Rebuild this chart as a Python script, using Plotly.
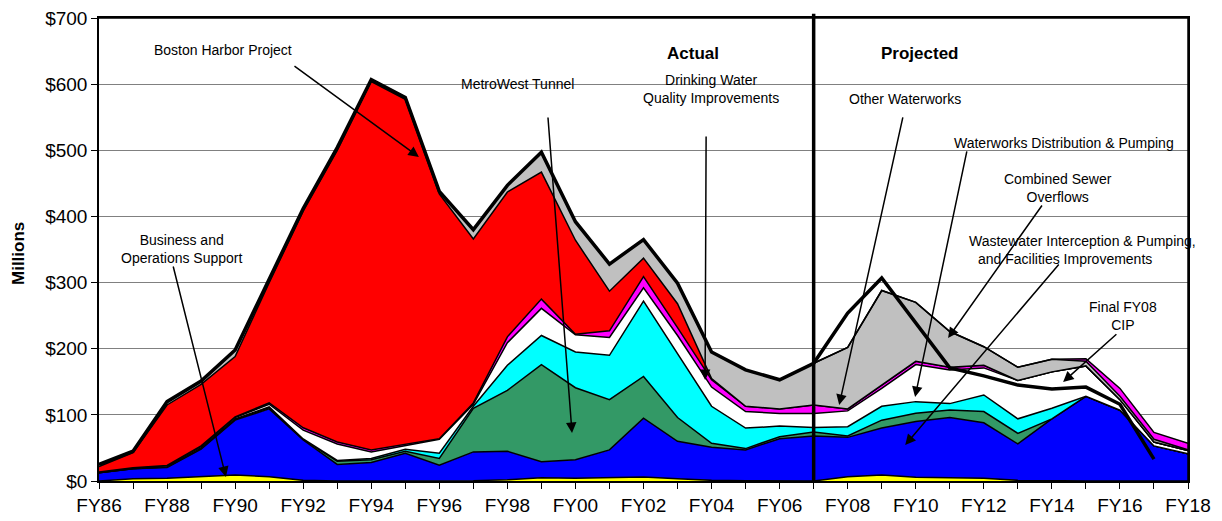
import plotly.graph_objects as go

# ---------------- data (millions of dollars), FY86 .. FY18 ----------------
years = list(range(1986, 2019))
tick_labels = ["FY86", "", "FY88", "", "FY90", "", "FY92", "", "FY94", "", "FY96", "",
               "FY98", "", "FY00", "", "FY02", "", "FY04", "", "FY06", "", "FY08", "",
               "FY10", "", "FY12", "", "FY14", "", "FY16", "", "FY18"]

business_ops = [0, 3.5, 4, 6.5, 9, 6.5, 1, 0, 0, 0, 0, 0.5, 2, 5, 4, 5.5, 6, 3.5, 1, 0.5,
                0.5, 0, 6.5, 9, 5.5, 4.5, 4, 1, 0, 0, 0, 0, 0]
wastewater = [12.5, 15, 16.5, 41.5, 83, 102.5, 61, 25, 28, 42, 24, 43.5, 43, 24, 28, 41.5,
              89, 56.5, 50, 46.5, 63.5, 68, 59.5, 71, 84.5, 91.5, 84, 55, 94, 128, 107, 53, 41]
metrowest = [0, 0, 0.5, 1, 1, 2, 1, 5, 4, 3, 10, 66, 92, 147, 109, 76, 63, 36, 6, 2,
             3, 6, 2, 12, 12.5, 11.5, 17, 16, 0, 0, 0, 0, 0]
drinking_water = [0, 0.5, 0.5, 1, 1, 1, 0.5, 1, 2, 3, 8, 3, 38, 44, 54, 67, 114, 96, 56, 31,
                  16, 7, 14, 21, 17.5, 9.5, 25, 22, 16, 0, 0, 0, 0]
distribution = [1, 1, 1.5, 2, 2, 4, 13.5, 25, 10, 5, 21, 3, 34, 41, 26, 27, 20, 28, 29, 25,
                19, 21, 24, 27, 56, 51, 41, 58, 55, 46, 16, 6, 5]
other_waterworks = [0, 0, 0.5, 1, 1, 2, 3.5, 3, 3, 2, 1, 2, 9, 14, 1, 10, 17, 12, 11, 8,
                    7, 13, 3, 5, 5, 4, 4, 0, 0, 4, 12, 10.5, 10]
boston_harbor = [8.5, 23, 91.5, 93, 91, 182, 327.5, 441, 557, 522, 370, 248, 219, 192, 142,
                 60, 28, 36, 2, 0, 0, 0, 0, 0, 0, 0, 0, 0, 0, 0, 0, 0, 0]
cso = [3, 2, 5, 5, 10, 5, 4, 4, 3, 3, 4, 14, 10, 30, 28, 41, 28, 31, 40, 55,
       44, 63, 93, 143, 89, 54, 28, 20, 19, 7, 5, 4, 1]
final_fy08_cip = [25, 45, 120, 151, 198, 305, 412, 504, 607, 580, 438, 380, 447, 497, 392,
                  328, 365, 299, 195, 168, 153, 178, 254, 307, 240, 171, 159, 145, 139, 142,
                  116, 33, None]

# In the late projected years the Other Waterworks band is drawn above CSO
upper_from = 2014
ow_lower = [v if y < upper_from else 0 for y, v in zip(years, other_waterworks)]
ow_upper = [v if y >= upper_from else 0 for y, v in zip(years, other_waterworks)]

layers = [
    ("Business and Operations Support", business_ops, "#FFFF00"),
    ("Wastewater Interception & Pumping, and Facilities Improvements", wastewater, "#0000FF"),
    ("MetroWest Tunnel", metrowest, "#339966"),
    ("Drinking Water Quality Improvements", drinking_water, "#00FFFF"),
    ("Waterworks Distribution & Pumping", distribution, "#FFFFFF"),
    ("Other Waterworks", ow_lower, "#FF00FF"),
    ("Boston Harbor Project", boston_harbor, "#FF0000"),
    ("Combined Sewer Overflows", cso, "#C0C0C0"),
    ("Other Waterworks ", ow_upper, "#FF00FF"),
]

fig = go.Figure()
for name, vals, color in layers:
    fig.add_trace(go.Scatter(
        x=years, y=vals, name=name, stackgroup="cip", mode="lines",
        line=dict(color="black", width=1.5), fillcolor=color, hoverinfo="skip"))

fig.add_trace(go.Scatter(
    x=years, y=final_fy08_cip, name="Final FY08 CIP", mode="lines",
    line=dict(color="black", width=3.5), connectgaps=False, hoverinfo="skip"))

FONT = "Arial, Liberation Sans, sans-serif"

# plot-area frame (top and right) and the Actual / Projected divider
fig.add_shape(type="line", xref="paper", yref="paper", x0=0, x1=1, y0=1, y1=1,
              line=dict(color="black", width=1.5))
fig.add_shape(type="line", xref="paper", yref="paper", x0=1, x1=1, y0=0, y1=1,
              line=dict(color="black", width=1.5))
fig.add_shape(type="line", xref="x", yref="paper", x0=2007, x1=2007, y0=0, y1=1.009,
              line=dict(color="black", width=3.5))

labels = [
    ("Boston Harbor Project", 1989.64, 651.6, 14, False),
    ("MetroWest Tunnel", 1998.30, 600.2, 14, False),
    ("Actual", 2003.455, 645.6, 17, True),
    ("Drinking Water<br>Quality Improvements", 2003.98, 593.4, 14, False),
    ("Projected", 2010.10, 645.6, 17, True),
    ("Other Waterworks", 2009.685, 577.6, 14, False),
    ("Waterworks Distribution & Pumping", 2014.36, 511.0, 14, False),
    ("Combined Sewer<br>Overflows", 2014.18, 443.0, 14, False),
    ("Wastewater Interception & Pumping,", 2014.89, 362.9, 14, False),
    ("and Facilities Improvements", 2014.39, 335.7, 14, False),
    ("Final FY08<br>CIP", 2016.09, 250.2, 14, False),
    ("Business and<br>Operations Support", 1988.44, 351.5, 14, False),
]
annotations = []
for text, x, y, size, bold in labels:
    annotations.append(dict(
        text=("<b>%s</b>" % text) if bold else text, x=x, y=y, xref="x", yref="y",
        showarrow=False, xanchor="center", yanchor="middle", align="center",
        font=dict(family=FONT, size=size, color="black")))

arrows = [
    (1995.40, 489.9, 1991.70, 629.0),
    (1999.90, 72.6, 1999.19, 551.9),
    (2003.81, 152.7, 2003.84, 523.1),
    (2007.75, 114.9, 2009.63, 551.9),
    (2009.98, 127.0, 2011.51, 500.5),
    (2010.95, 216.2, 2013.74, 418.8),
    (2009.69, 54.4, 2014.24, 329.6),
    (2014.33, 149.7, 2015.94, 223.8),
    (1989.73, 6.0, 1988.17, 326.6),
]
for x, y, ax, ay in arrows:
    annotations.append(dict(
        x=x, y=y, ax=ax, ay=ay, xref="x", yref="y", axref="x", ayref="y", text="",
        showarrow=True, arrowhead=2, arrowsize=1.4, arrowwidth=1.5, arrowcolor="black",
        standoff=0))

annotations.append(dict(
    text="<b>Millions</b>", xref="paper", yref="paper", x=-0.0744, y=0.4924,
    textangle=-90, showarrow=False, xanchor="center", yanchor="middle",
    font=dict(family=FONT, size=17, color="black")))

fig.update_layout(
    width=1222, height=521,
    margin=dict(l=99, r=34, t=18, b=40, autoexpand=False),
    paper_bgcolor="white", plot_bgcolor="white",
    showlegend=False,
    font=dict(family=FONT, color="black"),
    annotations=annotations,
    xaxis=dict(
        range=[1986, 2018], tickmode="array", tickvals=years, ticktext=tick_labels,
        ticks="outside", ticklen=6, tickwidth=1, tickcolor="black", automargin=False,
        ticklabeloverflow="allow",
        showgrid=False, zeroline=False, showline=True, linecolor="black", linewidth=1.5,
        mirror=True, tickfont=dict(family=FONT, size=19, color="black")),
    yaxis=dict(
        range=[0, 700], tickmode="linear", tick0=0, dtick=100, tickprefix="$",
        ticks="outside", ticklen=6, tickwidth=1, tickcolor="black", automargin=False,
        ticklabeloverflow="allow",
        showgrid=True, gridcolor="#808080", gridwidth=1, zeroline=False,
        showline=True, linecolor="black", linewidth=1.5, mirror=True,
        tickfont=dict(family=FONT, size=19, color="black")),
)

# remove the browser's default 8px page margin so the figure sits at the window origin
fig.write_html("out.html", config={"displayModeBar": False},
               post_script="document.body.style.margin='0';")
